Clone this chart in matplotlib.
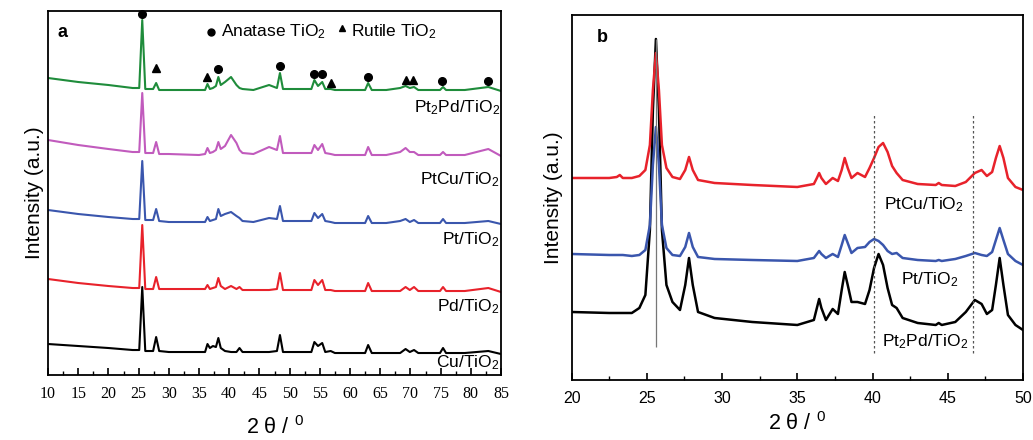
import matplotlib
matplotlib.use("Agg")
import matplotlib.pyplot as plt
from matplotlib.ticker import MultipleLocator

# ---- panel a: shared 2-theta grid and stacked intensities (a.u.) ----
theta_a = [10, 15, 20, 24, 25.1, 25.6, 26.1, 27.4, 27.9, 28.4,
           30, 35, 36.0, 36.4, 36.8, 37.3, 37.8, 38.2, 38.6, 39.3,
           40.3, 41.2, 41.7, 42.2, 44, 46.6, 47.9, 48.4, 48.9, 53.6,
           54.1, 54.7, 55.4, 55.9, 56.8, 57.5, 60, 62.5, 63.0, 63.6,
           66, 68.3, 69.2, 69.9, 70.6, 71.3, 73, 74.9, 75.4, 75.9,
           79, 82.9, 85]

pt2pd_a = [297, 293, 290, 287, 287, 355, 286, 286, 292, 285,
           285, 285, 285, 291, 286, 287, 289, 298, 290, 293,
           298, 290, 287, 286, 285, 290, 287, 302, 286, 286,
           295, 289, 293, 286, 286, 285, 285, 285, 292, 285,
           285, 287, 289, 287, 288, 285, 285, 285, 288, 285,
           285, 288, 284]
ptcu_a = [235, 230, 226, 223, 223, 282, 222, 222, 233, 221,
          221, 220, 221, 227, 222, 223, 225, 233, 226, 229,
          240, 232, 225, 222, 221, 228, 225, 239, 222, 222,
          230, 225, 231, 222, 221, 220, 220, 220, 228, 220,
          220, 223, 227, 223, 223, 220, 220, 220, 223, 220,
          220, 226, 219]
pt_a = [165, 161, 158, 156, 156, 214, 155, 155, 166, 154,
        153, 153, 153, 158, 154, 155, 156, 166, 159, 161,
        163, 159, 157, 154, 153, 157, 156, 169, 154, 154,
        162, 157, 161, 154, 153, 152, 152, 152, 159, 152,
        152, 154, 156, 153, 155, 152, 152, 152, 156, 152,
        152, 154, 151]
pd_a = [96, 92, 89, 87, 87, 150, 86, 86, 98, 86,
        86, 86, 86, 90, 86, 87, 88, 97, 89, 86,
        89, 86, 88, 85, 85, 85, 86, 102, 85, 85,
        95, 90, 95, 85, 85, 84, 84, 84, 92, 84,
        84, 84, 88, 85, 88, 84, 84, 84, 88, 84,
        84, 87, 83]
cu_a = [31, 29, 27, 25, 25, 88, 24, 24, 38, 24,
        23, 23, 23, 31, 27, 29, 28, 37, 27, 24,
        23, 23, 27, 23, 23, 23, 24, 40, 23, 23,
        33, 29, 32, 23, 24, 22, 22, 22, 30, 22,
        22, 22, 26, 23, 25, 22, 22, 22, 27, 22,
        22, 24, 21]

anatase_x = [25.6, 38.2, 48.4, 54.0, 55.4, 63.0, 75.2, 82.9]
anatase_y = [361, 306, 309, 301, 301, 298, 294, 294]
rutile_x = [27.9, 36.4, 56.8, 69.2, 70.4]
rutile_y = [307, 298, 292, 295, 295]

# ---- panel b ----
theta_b = [20, 22.5, 23.0, 23.2, 23.4, 24.0, 24.5, 24.9, 25.2, 25.4,
           25.6, 25.8, 26.0, 26.3, 26.7, 27.2, 27.55, 27.8, 28.05, 28.4,
           29.5, 32, 35, 36.1, 36.3, 36.45, 36.6, 36.9, 37.35, 37.7,
           37.95, 38.15, 38.35, 38.6, 39.0, 39.5, 39.8, 40.1, 40.4, 40.7,
           41.0, 41.3, 41.6, 42.0, 43.0, 44.2, 44.4, 44.6, 45.5, 46.2,
           46.8, 47.25, 47.6, 47.95, 48.2, 48.45, 48.7, 49.0, 49.5, 50]
ptcu_b = [202, 202, 203, 205, 202, 202, 204, 210, 235, 290,
          327, 290, 235, 212, 203, 201, 210, 223, 210, 200,
          197, 195, 193, 196, 202, 207, 202, 196, 202, 199,
          210, 222, 212, 202, 207, 203, 212, 222, 233, 237,
          228, 214, 207, 200, 196, 195, 197, 195, 194, 198,
          207, 210, 204, 208, 222, 234, 222, 202, 193, 190]
pt_b = [126, 125, 125, 125, 125, 124, 125, 130, 155, 215,
        253, 215, 155, 132, 125, 124, 133, 147, 133, 123,
        121, 120, 119, 122, 126, 129, 126, 122, 126, 123,
        135, 145, 137, 127, 132, 133, 138, 141, 139, 135,
        129, 126, 127, 122, 120, 119, 120, 119, 121, 124,
        127, 125, 124, 128, 140, 152, 140, 126, 119, 115]
pt2pd_b = [68, 67, 67, 67, 67, 67, 72, 85, 150, 270,
           341, 270, 150, 95, 78, 70, 95, 122, 95, 68,
           62, 58, 55, 60, 72, 81, 72, 60, 71, 66,
           90, 108, 95, 78, 78, 76, 90, 112, 126, 115,
           92, 75, 72, 62, 57, 55, 57, 55, 58, 68,
           80, 76, 66, 70, 95, 122, 95, 65, 55, 50]

GREEN = "#1f8c3b"
MAGENTA = "#c15bbd"
BLUE = "#3a56ad"
RED = "#e8222b"
BLACK = "#000000"

plt.rcParams["font.family"] = ["Liberation Sans", "DejaVu Sans"]
plt.rcParams["mathtext.fontset"] = "custom"
plt.rcParams["mathtext.rm"] = "Liberation Sans"
plt.rcParams["mathtext.it"] = "Liberation Sans:italic"

fig = plt.figure(figsize=(10.33, 4.40), dpi=100)
ax1 = fig.add_axes([0.0465, 0.1477, 0.4385, 0.8273])
ax2 = fig.add_axes([0.5534, 0.1364, 0.4369, 0.8295])

lw = 1.5
for ys, c in [(cu_a, BLACK), (pd_a, RED), (pt_a, BLUE), (ptcu_a, MAGENTA), (pt2pd_a, GREEN)]:
    ax1.plot(theta_a, ys, color=c, lw=lw, solid_joinstyle="round")

ax1.plot(anatase_x, anatase_y, "o", color="black", ms=5.5, clip_on=False)
ax1.plot(rutile_x, rutile_y, "^", color="black", ms=5.5)

# marker legend written inside the frame
ax1.plot([37.0], [343], "o", color="black", ms=5)
ax1.text(38.7, 343, "Anatase TiO$_2$", fontsize=12.5, va="center", ha="left")
ax1.plot([58.7], [347], "^", color="black", ms=4.5)
ax1.text(60.2, 343, "Rutile TiO$_2$", fontsize=12.5, va="center", ha="left")
ax1.text(0.02, 0.94, "a", transform=ax1.transAxes, fontsize=13, fontweight="bold",
         va="center", ha="left")

lab_x = 84.8
for txt, y in [("Pt$_2$Pd/TiO$_2$", 267), ("PtCu/TiO$_2$", 195), ("Pt/TiO$_2$", 135),
               ("Pd/TiO$_2$", 68), ("Cu/TiO$_2$", 12)]:
    ax1.text(lab_x, y, txt, fontsize=12.5, ha="right", va="center")

ax1.set_xlim(10, 85)
ax1.set_ylim(0, 364)
ax1.xaxis.set_major_locator(MultipleLocator(5))
ax1.xaxis.set_minor_locator(MultipleLocator(2.5))
ax1.set_yticks([])
ax1.tick_params(axis="x", which="major", direction="in", length=5, width=1.2,
                labelsize=11.5, pad=8)
ax1.tick_params(axis="x", which="minor", direction="in", length=3, width=1.0)
for lbl in ax1.get_xticklabels():
    lbl.set_fontfamily("Liberation Serif")
ax1.set_xlabel("2 \u03b8 / $^{0}$", fontsize=15.5, labelpad=10)
ax1.set_ylabel("Intensity (a.u.)", fontsize=15, labelpad=3)

# panel b
for ys, c in [(pt2pd_b, BLACK), (pt_b, BLUE), (ptcu_b, RED)]:
    ax2.plot(theta_b, ys, color=c, lw=lw + 0.3, solid_joinstyle="round")
ax2.vlines(25.6, 33, 341, color="#777777", lw=0.9)
ax2.vlines([40.1, 46.7], 27, 267, color="#555555", lw=0.9, linestyles=(0, (2, 2)))

ax2.text(43.4, 175, "PtCu/TiO$_2$", fontsize=12.5, ha="center", va="center")
ax2.text(43.8, 100, "Pt/TiO$_2$", fontsize=12.5, ha="center", va="center")
ax2.text(43.5, 38, "Pt$_2$Pd/TiO$_2$", fontsize=12.5, ha="center", va="center")
ax2.text(0.056, 0.937, "b", transform=ax2.transAxes, fontsize=13, fontweight="bold",
         va="center", ha="left")

ax2.set_xlim(20, 50)
ax2.set_ylim(0, 365)
ax2.xaxis.set_major_locator(MultipleLocator(5))
ax2.xaxis.set_minor_locator(MultipleLocator(2.5))
ax2.set_yticks([])
ax2.tick_params(axis="x", which="major", direction="in", length=5, width=1.2,
                labelsize=11.5, pad=8)
ax2.tick_params(axis="x", which="minor", direction="in", length=3, width=1.0)
ax2.set_xlabel("2 \u03b8 / $^{0}$", fontsize=15.5, labelpad=4)
ax2.set_ylabel("Intensity (a.u.)", fontsize=15, labelpad=6)

for ax in (ax1, ax2):
    for sp in ax.spines.values():
        sp.set_linewidth(1.3)

fig.savefig("out.png", dpi=100)
